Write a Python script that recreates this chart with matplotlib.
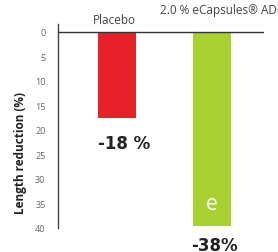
import matplotlib
matplotlib.use("Agg")
import matplotlib.pyplot as plt

categories = ["Placebo", "2.0 % eCapsules\u00ae ADC"]
values = [17.6, 39.6]
value_labels = ["-18 %", "-38%"]
yticks = [0, 5, 10, 15, 20, 25, 30, 35, 40]
colors = ["#E8202A", "#A9D031"]

fig = plt.figure(figsize=(2.78, 2.53), dpi=100)
ax = fig.add_axes([58/278, 24/253, 206/278, 204/253])
x = [0, 1]
bars = ax.bar(x, values, width=0.4, color=colors, zorder=2)
ax.set_xlim(-0.621, 1.547)
ax.set_ylim(40, -1.63)
ax.axhline(0, color="#333333", lw=1.0, zorder=3)
for s in ["top", "right", "bottom"]:
    ax.spines[s].set_visible(False)
ax.spines["left"].set_color("#444444")
ax.spines["left"].set_linewidth(1.0)
ax.set_xticks([])
ax.set_yticks(yticks)
ax.set_yticklabels([str(t) for t in yticks], fontsize=6.5, color="#666666", family="Open Sans")
ax.tick_params(axis="y", length=0, pad=9)
ax.set_ylabel("Length reduction (%)", fontsize=8.5, fontweight="bold", color="#222222",
              family="Open Sans")
ax.yaxis.set_label_coords(-0.15, 0.373)

# category labels above
ax.text(-0.03, -1.3, categories[0], ha="center", va="bottom", fontsize=8.5, color="#444444",
        family="Open Sans", clip_on=False)
ax.text(0.45, -3.2, categories[1], ha="left", va="bottom", fontsize=8.5, color="#444444",
        family="Open Sans", clip_on=False)

# value labels
ax.text(0.08, values[0] + 5.0, value_labels[0], ha="center", va="center", fontsize=12,
        fontweight="bold", color="#222222", family="Liberation Sans Narrow")
ax.text(1.03, values[1] + 3.9, value_labels[1], ha="center", va="center", fontsize=12,
        fontweight="bold", color="#222222", family="Liberation Sans Narrow", clip_on=False)

# logo mark on green bar
ax.text(1.0, 35.0, "e", ha="center", va="center", fontsize=15, color="white",
        family="Open Sans")

fig.savefig("out.png", dpi=100)
